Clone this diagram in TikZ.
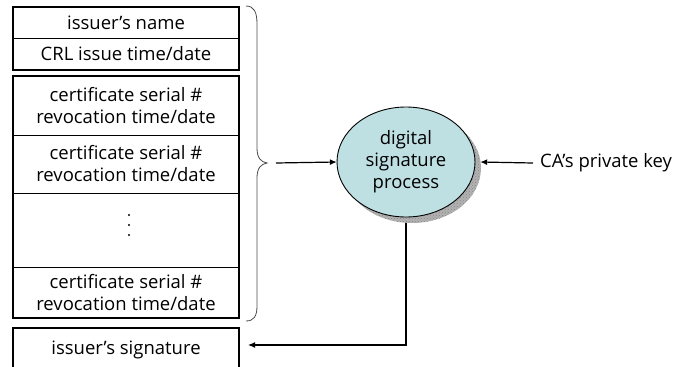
\documentclass[tikz,border=0pt]{standalone}
\usepackage{fontspec}
\setmainfont{Open Sans}
\usetikzlibrary{shapes.geometric,arrows.meta,patterns}
\definecolor{procfill}{HTML}{BEE0E3}
\begin{document}
\begin{tikzpicture}[x=1pt,y=-1pt,
  txt/.style={font=\fontsize{18.5}{22}\selectfont, align=center},
  cell/.style={txt, draw, line width=0.9pt, minimum width=226pt,
               inner sep=0pt, outer sep=0pt},
  frame/.style={line width=2.8pt},
  conn/.style={line width=1.2pt, -{Latex[length=7pt,width=6pt]}},
  bracket/.style={line width=0.8pt, black!70},
  dot/.style={fill=black, circle, inner sep=0pt, minimum size=2.2pt}]
\useasboundingbox (0,0) rectangle (681,367);

% header block
\node[cell, minimum height=31pt] (name) at (126,22.5) {issuer’s name};
\node[cell, minimum height=32pt] (crl)  at (126,54)   {CRL issue time/date};
\draw[frame] (name.north west) rectangle (crl.south east);

% revoked certificate entries
\node[cell, minimum height=59pt] (e1) at (126,105.5) {certificate serial \#\\revocation time/date};
\node[cell, minimum height=58pt] (e2) at (126,164)   {certificate serial \#\\revocation time/date};
\node[cell, minimum height=74pt] (e3) at (126,230)   {};
\node[dot] (d1) at (129,215) {};
\node[dot] (d2) at (129,225) {};
\node[dot] (d3) at (129,235) {};
\node[cell, minimum height=51pt] (e4) at (126,292.5) {certificate serial \#\\revocation time/date};
\draw[frame] (e1.north west) rectangle (e4.south east);

% signature field
\node[cell, minimum height=44pt] (sigbox) at (126,350) {issuer’s signature};
\draw[frame] (sigbox.north west) rectangle (sigbox.south east);

% brace over the signed fields
\draw[bracket] (246,6) .. controls (254,6) and (257,12) .. (257,24)
  -- (257,148) .. controls (257,158) and (261,162) .. (267,163)
  .. controls (261,164) and (257,168) .. (257,178)
  -- (257,306) .. controls (257,316) and (254,321) .. (246,321);
\coordinate (bracetip) at (267,163);

% signing process with its speckled drop shadow
\node[ellipse, minimum width=138pt, minimum height=110pt, inner sep=0pt] (sig) at (406,162) {};
\draw[conn] (sig.south) |- ([xshift=9pt,yshift=5pt]sigbox.east);
\node[ellipse, minimum width=138pt, minimum height=110pt, inner sep=0pt,
      fill=gray!60] (shadow) at (412,168) {};
\fill[pattern=crosshatch dots, pattern color=gray!95] (shadow.center) ellipse [x radius=69pt, y radius=55pt];
\node[ellipse, draw, line width=0.9pt, fill=procfill, minimum width=138pt,
      minimum height=110pt, inner sep=0pt, txt] at (sig.center) {digital\\signature\\process};

\draw[conn] ([xshift=9pt]bracetip) -- (sig.west);

\node[txt, anchor=west, inner sep=2pt] (key) at (538,163) {CA’s private key};
\draw[conn] ([xshift=-5pt]key.west) -- ([xshift=5pt]sig.east);
\end{tikzpicture}
\end{document}
